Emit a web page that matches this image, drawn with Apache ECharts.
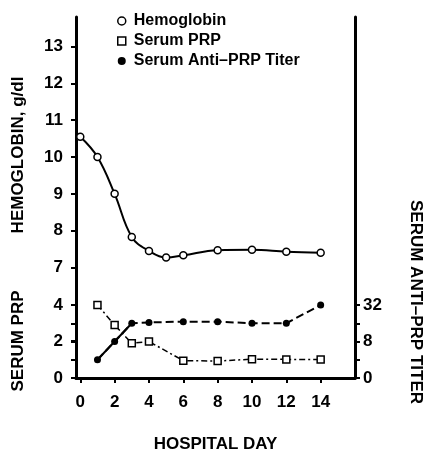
<!DOCTYPE html>
<html>
<head>
<meta charset="utf-8">
<script src="https://cdn.jsdelivr.net/npm/echarts@6/dist/echarts.min.js"></script>
<style>
  html, body { margin: 0; padding: 0; background: #fff; }
  #chart { width: 425px; height: 451px; }
</style>
</head>
<body>
<div id="chart"></div>
<script>
var hbDays = [0, 1, 2, 3, 4, 5, 6, 8, 10, 12, 14];
var hbValues = [10.55, 10.0, 9.0, 7.83, 7.45, 7.27, 7.33, 7.47, 7.48, 7.43, 7.4];

var prpDays = [1, 2, 3, 4, 6, 8, 10, 12, 14];
var prpValues = [4.0, 2.9, 1.9, 2.0, 0.95, 0.93, 1.03, 1.02, 1.02];

var titerDays = [1, 2, 3, 4, 6, 8, 10, 12, 14];
var titerValues = [4, 8, 16, 16.5, 17, 17, 16, 16, 32];

var dayTicks = [0, 2, 4, 6, 8, 10, 12, 14];
var hbTicks = [4, 5, 6, 7, 8, 9, 10, 11, 12, 13];
var hbLabels = [7, 8, 9, 10, 11, 12, 13];
var titerLabels = {2: '0', 8: '8', 32: '32'};

function pairs(xs, ys) {
    var out = [];
    for (var i = 0; i < xs.length; i++) {
        out.push([xs[i], ys[i]]);
    }
    return out;
}

var font = '"Liberation Sans", Arial, sans-serif';
var axisText = { color: '#000', fontSize: 17, fontWeight: 'bold', fontFamily: font };
var blackLine = { color: '#000', width: 3 };
var tickStyle = { color: '#000', width: 2 };
var openMark = { color: '#fff', borderColor: '#000', borderWidth: 1.5 };

var myChart = echarts.init(document.getElementById('chart'));

var option = {
    backgroundColor: '#fff',
    animation: false,
    legend: {
        orient: 'vertical',
        left: 112,
        top: 8,
        itemWidth: 14,
        itemHeight: 8,
        itemGap: 4,
        symbolKeepAspect: true,
        selectedMode: false,
        textStyle: { color: '#000', fontSize: 16, fontWeight: 'bold', fontFamily: font, lineHeight: 16 },
        data: [
            { name: 'Hemoglobin', icon: 'circle', itemStyle: openMark },
            { name: 'Serum PRP', icon: 'path://M0,0H10V10H0Z', itemStyle: openMark },
            { name: 'Serum Anti–PRP Titer', icon: 'circle', itemStyle: { color: '#000', borderWidth: 0 } }
        ]
    },
    grid: [
        { left: 76, right: 70, top: 17, bottom: 73, outerBoundsMode: 'none' },
        { left: 76, right: 70, top: 305, bottom: 73, outerBoundsMode: 'none' }
    ],
    xAxis: [
        {
            gridIndex: 0,
            type: 'value',
            min: -0.25,
            max: 16,
            axisLine: { onZero: false, lineStyle: blackLine },
            axisTick: { length: 5, lineStyle: tickStyle, customValues: dayTicks },
            axisLabel: Object.assign({ margin: 16, customValues: dayTicks }, axisText),
            splitLine: { show: false },
            name: 'HOSPITAL DAY',
            nameLocation: 'middle',
            nameGap: 58,
            nameTextStyle: axisText
        },
        {
            gridIndex: 1,
            type: 'value',
            min: -0.25,
            max: 16,
            show: false
        }
    ],
    yAxis: [
        {
            gridIndex: 0,
            type: 'value',
            position: 'left',
            min: 4,
            max: 13.8,
            axisLine: { show: true, onZero: false, lineStyle: blackLine },
            axisTick: { length: 5, lineStyle: tickStyle, customValues: hbTicks },
            axisLabel: Object.assign({ margin: 13, customValues: hbLabels }, axisText),
            splitLine: { show: false }
        },
        {
            gridIndex: 0,
            type: 'value',
            position: 'right',
            min: 0,
            max: 1,
            axisLine: { show: true, onZero: false, lineStyle: blackLine },
            axisTick: { show: false },
            axisLabel: { show: false },
            splitLine: { show: false }
        },
        {
            gridIndex: 1,
            type: 'value',
            position: 'left',
            min: 0,
            max: 4,
            interval: 1,
            axisLine: { show: false, onZero: false },
            axisTick: { show: true, length: 5, lineStyle: tickStyle },
            axisLabel: Object.assign({
                margin: 13,
                formatter: function (v) { return v % 2 === 0 ? String(v) : ''; }
            }, axisText),
            splitLine: { show: false }
        },
        {
            gridIndex: 1,
            type: 'log',
            logBase: 2,
            position: 'right',
            min: 2,
            max: 32,
            axisLine: { show: false, onZero: false },
            axisTick: { show: true, length: 5, lineStyle: tickStyle },
            axisLabel: Object.assign({
                margin: 8,
                formatter: function (v) {
                    var k = Math.round(v);
                    return titerLabels[k] !== undefined ? titerLabels[k] : '';
                }
            }, axisText),
            splitLine: { show: false }
        }
    ],
    graphic: [
        {
            type: 'text', x: 18, y: 155, rotation: Math.PI / 2,
            style: { text: 'HEMOGLOBIN, g/dl', fill: '#000', font: 'bold 17px ' + font,
                     align: 'center', verticalAlign: 'middle', textAlign: 'center', textVerticalAlign: 'middle' }
        },
        {
            type: 'text', x: 18, y: 341, rotation: Math.PI / 2,
            style: { text: 'SERUM PRP', fill: '#000', font: 'bold 17px ' + font,
                     align: 'center', verticalAlign: 'middle', textAlign: 'center', textVerticalAlign: 'middle' }
        },
        {
            type: 'text', x: 416, y: 302, rotation: -Math.PI / 2,
            style: { text: 'SERUM ANTI–PRP TITER', fill: '#000', font: 'bold 17px ' + font,
                     align: 'center', verticalAlign: 'middle', textAlign: 'center', textVerticalAlign: 'middle' }
        }
    ],
    series: [
        {
            name: 'Hemoglobin',
            type: 'line',
            xAxisIndex: 0,
            yAxisIndex: 0,
            data: pairs(hbDays, hbValues),
            smooth: 0.4,
            symbol: 'circle',
            symbolSize: 7,
            lineStyle: { color: '#000', width: 2 },
            itemStyle: openMark,
            z: 5
        },
        {
            name: 'Serum PRP',
            type: 'line',
            xAxisIndex: 1,
            yAxisIndex: 2,
            data: pairs(prpDays, prpValues),
            clip: false,
            symbol: 'rect',
            symbolSize: 7,
            lineStyle: { color: '#000', width: 1.5, type: [6, 3, 2, 3] },
            itemStyle: openMark,
            z: 4
        },
        {
            name: 'Serum Anti–PRP Titer',
            type: 'line',
            xAxisIndex: 1,
            yAxisIndex: 3,
            data: pairs(titerDays, titerValues),
            clip: false,
            symbol: 'circle',
            symbolSize: 7,
            lineStyle: { color: '#000', width: 2, type: [8, 4] },
            itemStyle: { color: '#000', borderColor: '#000', borderWidth: 0 },
            z: 3
        },
        {
            // first rise of the titer is drawn solid
            name: 'titerEarly',
            type: 'line',
            xAxisIndex: 1,
            yAxisIndex: 3,
            data: pairs(titerDays.slice(0, 3), titerValues.slice(0, 3)),
            clip: false,
            symbol: 'none',
            lineStyle: { color: '#000', width: 2 },
            z: 2
        }
    ]
};

myChart.setOption(option);
</script>
</body>
</html>
